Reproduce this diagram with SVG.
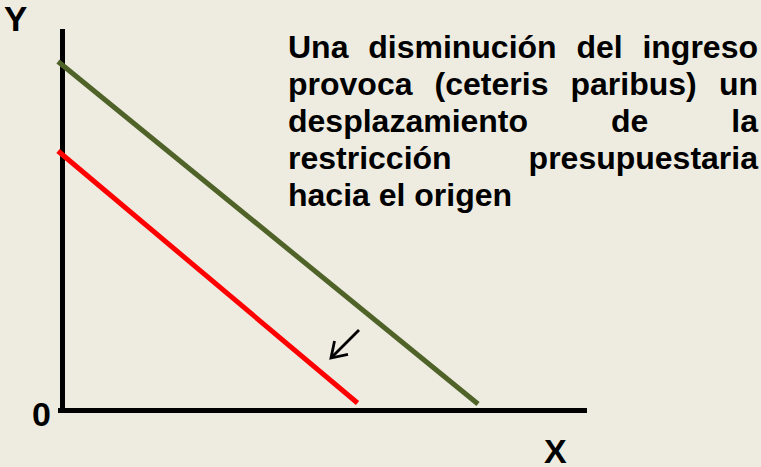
<svg xmlns="http://www.w3.org/2000/svg" width="761" height="467" viewBox="0 0 761 467">
  <defs>
    <style>
      .lbl { font-family: "Liberation Sans", Arial, sans-serif; font-weight: bold; fill: #000; }
      .txt { font-family: "Liberation Sans", Arial, sans-serif; font-weight: bold; font-size: 32px; fill: #000; }
      .axis { stroke: #000; stroke-width: 5; fill: none; }
      .budget { stroke-width: 5; fill: none; }
    </style>
    <marker id="openArrow" markerUnits="userSpaceOnUse" markerWidth="24" markerHeight="24" viewBox="0 0 24 24" refX="20" refY="12" orient="auto">
      <path d="M5.5,2.5 L20,12 L5.5,21.5" fill="none" stroke="#000" stroke-width="2.8"/>
    </marker>
  </defs>
  <rect x="0" y="0" width="761" height="467" fill="#EEECE1"/>

  <g id="axes">
    <line class="axis" x1="62.5" y1="29" x2="62.5" y2="412"/>
    <line class="axis" x1="58" y1="410.5" x2="587" y2="410.5"/>
    <text class="lbl" x="4" y="31" font-size="35">Y</text>
    <text class="lbl" x="544" y="463" font-size="34">X</text>
    <text class="lbl" x="32" y="426" font-size="34">0</text>
  </g>

  <g id="budget-original">
    <line class="budget" stroke="#4F6228" x1="58" y1="61.5" x2="478" y2="404"/>
  </g>
  <g id="budget-new">
    <line class="budget" stroke="#FF0000" x1="58" y1="151" x2="357.5" y2="403"/>
  </g>

  <g id="connectors">
    <path d="M359,330 L331,358" stroke="#000" stroke-width="2.8" fill="none" marker-end="url(#openArrow)"/>
  </g>

  <g id="note">
    <text class="txt" y="58">
      <tspan x="288">Una</tspan><tspan x="368.2">disminución</tspan><tspan x="576.5">del</tspan><tspan x="758" text-anchor="end">ingreso</tspan>
    </text>
    <text class="txt" y="95">
      <tspan x="288">provoca</tspan><tspan x="434.6">(ceteris</tspan><tspan x="570.5">paribus)</tspan><tspan x="758" text-anchor="end">un</tspan>
    </text>
    <text class="txt" y="132">
      <tspan x="288">desplazamiento</tspan><tspan x="611">de</tspan><tspan x="758" text-anchor="end">la</tspan>
    </text>
    <text class="txt" y="169">
      <tspan x="288">restricción</tspan><tspan x="758" text-anchor="end">presupuestaria</tspan>
    </text>
    <text class="txt" x="288" y="206">hacia el origen</text>
  </g>
</svg>
